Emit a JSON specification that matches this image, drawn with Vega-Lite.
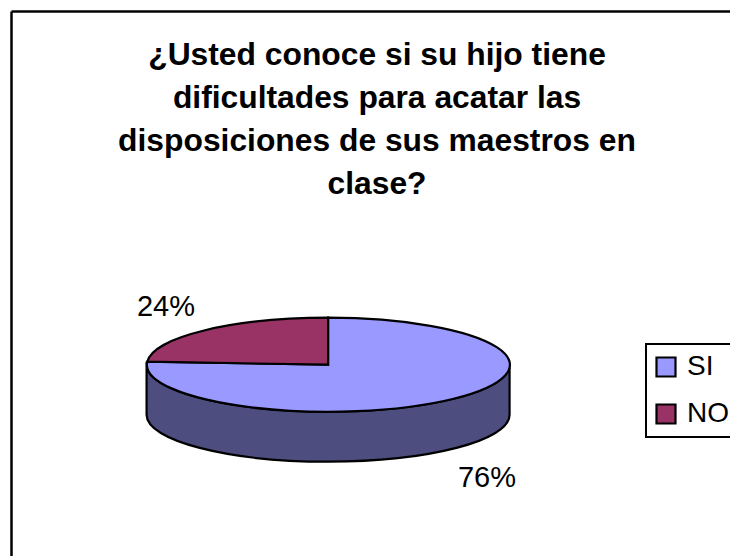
{
"$schema":"https://vega.github.io/schema/vega-lite/v6.json",
"width":719,"height":545,
"autosize":"none",
"padding":{"left":11,"top":11,"right":0,"bottom":0},
"background":"white",
"config":{"view":{"stroke":null},"font":"Liberation Sans"},
"title":{"text":["¿Usted conoce si su hijo tiene","dificultades para acatar las","disposiciones de sus maestros en","clase?"],"anchor":"middle","frame":"group","baseline":"top","dx":6.5,"dy":193.5,"fontSize":31.8,"fontWeight":"bold","lineHeight":42.8,"color":"black","font":"Liberation Sans"},
"data":{"values":[{"slice":"SI","share":0.76},{"slice":"NO","share":0.24}]},
"resolve":{"scale":{"x":"independent","y":"independent"},"axis":{"x":"independent","y":"independent"}},
"layer":[
{"mark":{"type":"rule","opacity":0},
 "encoding":{
  "x":{"datum":0,"type":"quantitative","scale":{"domain":[0,100]},"axis":{"orient":"top","title":null,"labels":false,"ticks":false,"grid":false,"domainColor":"black","domainWidth":2.5}},
  "y":{"datum":100,"type":"quantitative","scale":{"domain":[0,100]},"axis":{"orient":"left","title":null,"labels":false,"ticks":false,"grid":false,"domainColor":"black","domainWidth":2.5}}
 }},
{"transform":[{"filter":"datum.slice === 'SI'"}],
 "mark":{"type":"point","filled":true,"opacity":1,"size":4,"fill":"#4D4D80","stroke":"black","strokeWidth":2.2,"shape":"M-181.5,-3 L-181.5,50 A181.5,47 0 0 0 181.5,50 L181.5,0 A181.5,47 0 0 1 -181.5,0 Z"},
 "encoding":{
  "x":{"datum":44.1,"type":"quantitative","scale":{"domain":[0,100]},"axis":null},
  "y":{"datum":35.1,"type":"quantitative","scale":{"domain":[0,100]},"axis":null}
 }},
{"mark":{"type":"point","filled":true,"opacity":1,"size":4,"stroke":"black","strokeWidth":2.2},
 "encoding":{
  "x":{"datum":44.1,"type":"quantitative","scale":{"domain":[0,100]},"axis":null},
  "y":{"datum":35.1,"type":"quantitative","scale":{"domain":[0,100]},"axis":null},
  "shape":{"field":"share","type":"nominal","legend":null,"scale":{"domain":[0.76,0.24],"range":["M0,0 L0,-47 A181.5,47 0 1 1 -180.8,-3 Z","M0,0 L-180.8,-3 A181.5,47 0 0 1 0,-47 Z"]}},
  "fill":{"field":"slice","type":"nominal","sort":["SI","NO"],"scale":{"domain":["SI","NO"],"range":["#9999FF","#993366"]},
   "legend":{"title":null,"orient":"none","legendX":635,"legendY":333,"symbolType":"square","symbolSize":361,"symbolOffset":-3,"symbolStrokeColor":"black","symbolStrokeWidth":2.2,"symbolOpacity":1,"labelFont":"Liberation Sans","labelFontSize":28,"labelColor":"black","labelOffset":7,"rowPadding":19,"strokeColor":"black","padding":9,"fillColor":"white","encode":{"legend":{"update":{"strokeWidth":{"value":2}}}}}}
 }},
{"mark":{"type":"text","font":"Liberation Sans","fontSize":29,"color":"black","baseline":"middle","align":"center"},
 "encoding":{
  "x":{"field":"share","type":"quantitative","scale":{"domain":[0.24,0.76],"range":[155,476]},"axis":null},
  "y":{"field":"share","type":"quantitative","scale":{"domain":[0.24,0.76],"range":[296,467]},"axis":null},
  "text":{"field":"share","type":"quantitative","format":".0%"}
 }}
]
}
